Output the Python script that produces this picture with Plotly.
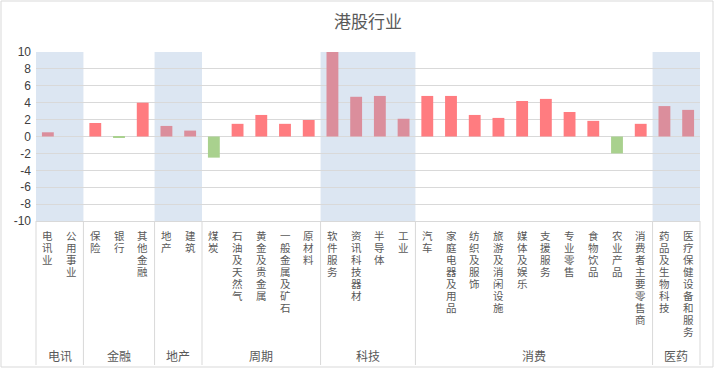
import plotly.graph_objects as go

# ---------------- data ----------------
groups = ["电讯", "金融", "地产", "周期", "科技", "消费", "医药"]
group_members = [
    ["电讯业", "公用事业"],
    ["保险", "银行", "其他金融"],
    ["地产", "建筑"],
    ["煤炭", "石油及天然气", "黄金及贵金属", "一般金属及矿石", "原材料"],
    ["软件服务", "资讯科技器材", "半导体", "工业"],
    ["汽车", "家庭电器及用品", "纺织及服饰", "旅游及消闲设施", "媒体及娱乐",
     "支援服务", "专业零售", "食物饮品", "农业产品", "消费者主要零售商"],
    ["药品及生物科技", "医疗保健设备和服务"],
]
values = [0.5, 0.0,
          1.6, -0.15, 4.0,
          1.25, 0.7,
          -2.5, 1.5, 2.55, 1.5, 1.95,
          10.0, 4.7, 4.8, 2.1,
          4.8, 4.8, 2.55, 2.2, 4.2, 4.45, 2.9, 1.85, -2.0, 1.5,
          3.6, 3.15]
shaded_groups = ["电讯", "地产", "科技", "医药"]
y_ticks = [-10, -8, -6, -4, -2, 0, 2, 4, 6, 8, 10]
y_tick_text = ["-10", "-8", "-6", "-4", "-2", "0", "2", "4", "6", "8", "10"]

# ---------------- layout constants ----------------
W, H = 715, 370
PL, PR, PT, PB = 36, 700, 52, 221   # plot area pixels
GRAY = "#595959"
LINE = "#D9D9D9"
RED = "#FF7C80"
PINK = "#DB8E9C"
GREEN = "#A9D18E"
BAND = "#DCE6F2"
CJK = "Noto Sans CJK SC"
LABEL_FONT = "Liberation Sans, Noto Sans CJK SC"

categories = [c for g in group_members for c in g]
n = len(categories)
cat_group = [groups[gi] for gi, g in enumerate(group_members) for _ in g]


def px_x(p):
    return (p - PL) / (PR - PL)


def px_y(p):
    return (PB - p) / (PB - PT)


colors = []
for v, g in zip(values, cat_group):
    if v < 0:
        colors.append(GREEN)
    elif g in shaded_groups:
        colors.append(PINK)
    else:
        colors.append(RED)

fig = go.Figure(go.Bar(
    x=list(range(n)), y=values, marker_color=colors, marker_line_width=0,
    hoverinfo="skip",
))

shapes = []
annotations = []

# group bands and separators
start = 0
bounds = [-0.5]
for gi, g in enumerate(group_members):
    end = start + len(g) - 1
    if groups[gi] in shaded_groups:
        shapes.append(dict(type="rect", xref="x", yref="y",
                           x0=start - 0.5, x1=end + 0.5, y0=-10, y1=10,
                           fillcolor=BAND, line_width=0, layer="below"))
    annotations.append(dict(
        x=(start + end) / 2, xref="x", y=px_y(355), yref="paper",
        text=groups[gi], showarrow=False, xanchor="center", yanchor="middle",
        font=dict(family=CJK, size=12, color=GRAY)))
    bounds.append(end + 0.5)
    start = end + 1

for b in bounds:
    xp = (b + 0.5) / n
    shapes.append(dict(type="line", xref="paper", yref="paper",
                       x0=xp, x1=xp, y0=px_y(PB), y1=px_y(365),
                       line=dict(color=LINE, width=1)))

# vertical stacked category labels (one upright character per row)
for i, c in enumerate(categories):
    for k, ch in enumerate(c):
        annotations.append(dict(
            x=i, xref="x", y=px_y(235.5 + 12 * k), yref="paper",
            text=ch, showarrow=False, xanchor="center", yanchor="middle",
            borderpad=0,
            font=dict(family=LABEL_FONT, size=10.5, color=GRAY)))

# outer frame
shapes.append(dict(type="rect", xref="paper", yref="paper",
                   x0=px_x(1), x1=px_x(713), y0=px_y(1), y1=px_y(367),
                   line=dict(color=LINE, width=1), fillcolor="rgba(0,0,0,0)"))

fig.update_layout(
    width=W, height=H,
    margin=dict(l=PL, r=W - PR, t=PT, b=H - PB),
    paper_bgcolor="white", plot_bgcolor="rgba(0,0,0,0)",
    bargap=0.5, showlegend=False,
    font=dict(family=CJK, color=GRAY),
    title=dict(text="港股行业", x=0.5, xanchor="center", xref="paper",
               y=1 - 22 / H, yanchor="middle", yref="container",
               font=dict(family=CJK, size=17, color=GRAY)),
    xaxis=dict(range=[-0.5, n - 0.5], showticklabels=False, showgrid=False,
               zeroline=False, showline=True, linecolor=LINE, linewidth=1,
               ticks=""),
    yaxis=dict(range=[-10, 10], tickvals=y_ticks, ticktext=y_tick_text,
               showgrid=True, gridcolor=LINE, gridwidth=1, zeroline=False,
               showline=False,
               tickfont=dict(family="Liberation Sans", size=12, color="#404040"),
               ticklabelstandoff=4, fixedrange=True),
    shapes=shapes, annotations=annotations,
)

fig.write_html("out.html")
